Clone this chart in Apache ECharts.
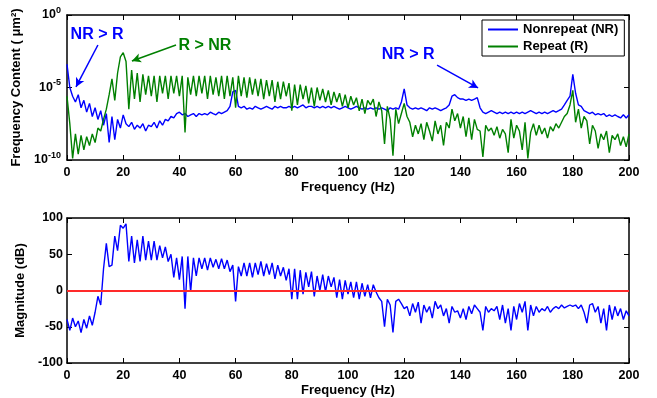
<!DOCTYPE html>
<html>
<head>
<meta charset="utf-8">
<script src="https://cdn.jsdelivr.net/npm/echarts@6/dist/echarts.min.js"></script>
<style>
html,body{margin:0;padding:0;background:#fff;}
#chart{width:657px;height:398px;}
</style>
</head>
<body>
<div id="chart"></div>
<script>
// Frequency bins (Hz), 1 Hz step, 0..200
const freqHz = Array.from({length: 201}, (_, i) => i);

// Top panel: frequency content (um^2), Nonrepeat (NR)
const nonrepeatNR = [
4e-4,1e-5,2.5e-6,1e-6,3.2e-6,4e-7,1.3e-6,2e-7,8e-7,1e-7,
4e-7,6.3e-8,2.5e-7,2.5e-8,1.6e-7,1.6e-9,1e-7,2.5e-9,6.3e-8,1.6e-8,
1.3e-7,3.2e-8,2e-8,4e-8,1.3e-8,2.5e-8,1.6e-8,3.2e-8,1e-8,2.5e-8,
2e-8,4e-8,1.6e-8,5e-8,2.5e-8,6.3e-8,5e-8,1e-7,8e-8,1.6e-7,
2e-7,1.3e-7,1.6e-7,1e-7,1.3e-7,1.6e-7,1e-7,1.6e-7,1.3e-7,1.6e-7,
1.3e-7,2e-7,1.6e-7,1.3e-7,2e-7,1.6e-7,2e-7,2.5e-7,5e-7,5e-6,
6.3e-6,5e-7,4e-7,5e-7,3.2e-7,4e-7,3.2e-7,5e-7,4e-7,3.2e-7,
4e-7,5e-7,4e-7,3.2e-7,5e-7,4e-7,5e-7,4e-7,4e-7,5e-7,
4e-7,5e-7,4e-7,5e-7,6.3e-7,4e-7,5e-7,5e-7,4e-7,5e-7,
4e-7,5e-7,4e-7,5e-7,4e-7,5e-7,4e-7,3.2e-7,4e-7,5e-7,
4e-7,3.2e-7,4e-7,5e-7,4e-7,3.2e-7,4e-7,3.2e-7,4e-7,3.2e-7,
4e-7,3.2e-7,4e-7,3.2e-7,2.5e-7,4e-7,3.2e-7,4e-7,3.2e-7,1e-6,
8e-6,6.3e-7,4e-7,3.2e-7,4e-7,3.2e-7,4e-7,3.2e-7,2.5e-7,4e-7,
3.2e-7,4e-7,3.2e-7,2.5e-7,3.2e-7,4e-7,6.3e-7,2.5e-6,3.2e-6,2e-6,
1.6e-6,1.6e-6,1.3e-6,1.6e-6,1.3e-6,1.6e-6,2e-6,4e-7,2e-7,1.6e-7,
2e-7,2.5e-7,2e-7,1.6e-7,2e-7,1.6e-7,2e-7,1.6e-7,2e-7,1.6e-7,
2e-7,1.6e-7,2e-7,1.6e-7,2e-7,2.5e-7,2e-7,1.6e-7,2e-7,1.6e-7,
2e-7,1.6e-7,2e-7,2.5e-7,2e-7,2.5e-7,3.2e-7,6.3e-7,1.3e-6,2.5e-6,
8e-5,4e-6,6.3e-7,5e-7,2.5e-7,2e-7,1.6e-7,2e-7,1.3e-7,1.6e-7,
1.3e-7,1.6e-7,1e-7,1.3e-7,1e-7,1.3e-7,1e-7,8e-8,1.3e-7,8e-8,1.3e-7
];

// Top panel: frequency content (um^2), Repeat (R)
const repeatR = [
2.5e-6,3.2e-8,1.3e-10,6.3e-9,2.5e-10,5e-9,5e-10,4e-9,1e-9,6.3e-9,
1.6e-9,1.6e-8,1e-8,6.3e-8,3.2e-7,3.2e-6,4e-5,1.3e-6,1e-4,1.3e-3,
2.5e-3,6.3e-4,3.2e-7,1.6e-4,1.6e-6,1e-4,1e-6,8e-5,3.2e-6,6.3e-5,
2.5e-6,6.3e-5,1e-6,6.3e-5,4e-6,6.3e-5,1.6e-6,6.3e-5,4e-6,6.3e-5,
2.5e-6,6.3e-5,8e-9,5e-5,3.2e-6,6.3e-5,2.5e-6,6.3e-5,4e-6,6.3e-5,
1.6e-6,6.3e-5,3.2e-6,5e-5,2.5e-6,6.3e-5,1.6e-6,6.3e-5,2.5e-6,5e-5,
4e-7,6.3e-5,2.5e-6,5e-5,2e-6,5e-5,3.2e-6,4e-5,2.5e-6,4e-5,
1.6e-6,3.2e-5,2.5e-6,3.2e-5,1e-6,2.5e-5,1.6e-6,2.5e-5,2.5e-6,2e-5,
2.5e-7,1.6e-5,6.3e-7,1.6e-5,1.6e-6,1.3e-5,8e-7,1e-5,5e-7,1e-5,
1.3e-6,8e-6,1e-6,6.3e-6,6.3e-7,5e-6,1e-6,4e-6,5e-7,3.2e-6,
4e-7,2.5e-6,6.3e-7,2e-6,2.5e-7,1.6e-6,1.6e-7,1.3e-6,6.3e-7,1.6e-6,
1e-7,1e-6,2.5e-7,1.3e-9,5e-7,6.3e-8,2e-10,3.2e-7,3.2e-8,1.6e-7,
8e-7,1e-7,4e-8,4e-9,2.5e-8,6.3e-9,3.2e-8,2.5e-9,4e-8,1e-8,
2e-9,5e-8,6.3e-9,2.5e-8,1e-9,4e-8,1.6e-8,3.2e-7,5e-8,1.6e-7,
1.6e-8,1e-7,4e-9,8e-8,2.5e-9,6.3e-8,1.3e-8,1e-8,1.6e-10,2.5e-8,
1e-8,1.6e-8,5e-9,2e-8,3.2e-9,1.3e-8,6.3e-9,3.2e-10,6.3e-8,3.2e-9,
2.5e-8,1e-8,5e-10,4e-8,1.3e-10,8e-9,3.2e-8,5e-9,2.5e-8,6.3e-9,
1.6e-8,3.2e-9,2e-8,1e-8,3.2e-8,1.6e-8,4e-8,1e-7,1.6e-7,6.3e-7,
6.3e-6,4e-8,3.2e-7,1.6e-8,1e-7,5e-8,1.3e-9,2.5e-8,1e-8,6.3e-10,
6.3e-9,2.5e-9,1e-8,3.2e-10,5e-9,2.5e-9,6.3e-9,1e-9,4e-9,8e-10,6.3e-9
];

// Bottom panel: magnitude (dB)
const magnitudeDb = [
-40,-55,-38,-50,-42,-58,-40,-52,-35,-48,
-30,-8,-20,30,65,33,35,75,55,90,
86,92,40,75,38,70,40,75,42,68,
42,68,42,62,45,60,40,50,18,45,
15,47,-25,47,-2,45,20,45,30,45,
28,45,32,43,30,44,30,42,26,35,
-15,33,20,38,20,38,18,38,22,40,
20,37,22,38,16,35,20,32,14,30,
-12,30,-12,28,-5,25,5,26,-8,20,
0,22,-2,20,5,18,-10,15,-12,14,
-5,12,-10,12,-12,10,-8,8,-10,8,
-2,-10,-15,-50,-12,-20,-58,-15,-12,-18,
-25,-22,-35,-18,-30,-16,-45,-20,-30,-22,
-38,-15,-25,-20,-35,-25,-45,-22,-30,-28,
-38,-25,-40,-22,-32,-20,-25,-30,-55,-22,
-30,-25,-28,-22,-40,-20,-45,-25,-55,-22,
-40,-18,-30,-15,-55,-20,-35,-22,-30,-25,
-28,-22,-30,-25,-22,-25,-20,-24,-22,-20,
-22,-20,-25,-20,-30,-45,-20,-18,-30,-22,
-45,-25,-55,-20,-40,-22,-35,-25,-40,-28,-35
];

const xTicks = [0, 20, 40, 60, 80, 100, 120, 140, 160, 180, 200];
const seriesNames = ['Nonrepeat (NR)', 'Repeat (R)'];

const FONT = 'Liberation Sans, Arial, Helvetica, sans-serif';
const BLUE = '#0000ff', GREEN = '#008000', RED = '#ff2a2a';

const chart = echarts.init(document.getElementById('chart'), null, {renderer: 'canvas'});

function xAxisDef(grid, pos, withLabels) {
  return {
    type: 'value', gridIndex: grid, position: pos, min: 0, max: 200, interval: 20,
    axisLine: {show: true, onZero: false, lineStyle: {color: '#000', width: 1.5}},
    axisTick: {show: true, inside: true, length: 5, lineStyle: {color: '#000', width: 1}},
    axisLabel: {show: withLabels, margin: 6, color: '#000', fontFamily: FONT, fontWeight: 'bold', fontSize: 12.5},
    splitLine: {show: false},
    name: withLabels ? 'Frequency (Hz)' : '',
    nameLocation: 'middle', nameGap: 21,
    nameTextStyle: {color: '#000', fontFamily: FONT, fontWeight: 'bold', fontSize: 13}
  };
}

const supRich = {
  b: {fontSize: 12.5, fontWeight: 'bold', fontFamily: FONT, color: '#000'},
  s: {fontSize: 9, fontWeight: 'bold', fontFamily: FONT, color: '#000', padding: [0, 0, 9, 0]}
};

const option = {
  animation: false,
  backgroundColor: '#fff',
  grid: [
    {left: 67, right: 28, top: 15, height: 145},
    {left: 67, right: 28, top: 218, height: 145}
  ],
  legend: {
    data: seriesNames,
    orient: 'vertical', left: 482, top: 20,
    backgroundColor: '#fff', borderColor: '#000', borderWidth: 1,
    padding: [3, 6, 3, 6], itemGap: 4, itemWidth: 30, itemHeight: 2, icon: 'rect',
    textStyle: {color: '#000', fontFamily: FONT, fontWeight: 'bold', fontSize: 13, padding: [0, 0, 0, 0]}
  },
  xAxis: [
    xAxisDef(0, 'bottom', true),
    xAxisDef(0, 'top', false),
    xAxisDef(1, 'bottom', true),
    xAxisDef(1, 'top', false)
  ],
  yAxis: [
    {
      type: 'log', logBase: 10, gridIndex: 0, position: 'left', min: 1e-10, max: 1, interval: 5,
      axisLine: {show: true, onZero: false, lineStyle: {color: '#000', width: 1.5}},
      axisTick: {show: true, inside: true, length: 5, lineStyle: {color: '#000'}},
      minorTick: {show: false},
      axisLabel: {
        margin: 6,
        formatter: v => '{b|10}{s|' + Math.round(Math.log10(v)) + '}',
        rich: supRich
      },
      splitLine: {show: false},
      name: 'Frequency Content ( \u03bcm\u00b2)', nameLocation: 'middle', nameGap: 36, nameRotate: 90,
      nameTextStyle: {color: '#000', fontFamily: FONT, fontWeight: 'bold', fontSize: 13}
    },
    {
      type: 'log', logBase: 10, gridIndex: 0, position: 'right', min: 1e-10, max: 1, interval: 5,
      axisLine: {show: true, onZero: false, lineStyle: {color: '#000', width: 1.5}},
      axisTick: {show: true, inside: true, length: 5, lineStyle: {color: '#000'}},
      minorTick: {show: false},
      axisLabel: {show: false}, splitLine: {show: false}
    },
    {
      type: 'value', gridIndex: 1, position: 'left', min: -100, max: 100, interval: 50,
      axisLine: {show: true, onZero: false, lineStyle: {color: '#000', width: 1.5}},
      axisTick: {show: true, inside: true, length: 5, lineStyle: {color: '#000'}},
      axisLabel: {margin: 4, color: '#000', fontFamily: FONT, fontWeight: 'bold', fontSize: 12.5},
      splitLine: {show: false},
      name: 'Magnitude (dB)', nameLocation: 'middle', nameGap: 36, nameRotate: 90,
      nameTextStyle: {color: '#000', fontFamily: FONT, fontWeight: 'bold', fontSize: 13}
    },
    {
      type: 'value', gridIndex: 1, position: 'right', min: -100, max: 100, interval: 50,
      axisLine: {show: true, onZero: false, lineStyle: {color: '#000', width: 1.5}},
      axisTick: {show: true, inside: true, length: 5, lineStyle: {color: '#000'}},
      axisLabel: {show: false}, splitLine: {show: false}
    }
  ],
  series: [
    {
      name: seriesNames[0], type: 'line', xAxisIndex: 0, yAxisIndex: 0,
      data: freqHz.map((f, i) => [f, nonrepeatNR[i]]),
      showSymbol: false, symbol: 'none', color: BLUE,
      lineStyle: {color: BLUE, width: 1.4}, z: 2,
      markLine: {
        silent: true, symbol: ['none', 'arrow'], symbolSize: [7, 9],
        label: {show: false},
        lineStyle: {color: BLUE, width: 1.5, type: 'solid'},
        data: [
          [{coord: [11.0, 8.5e-3]}, {coord: [3.2, 1.1e-5]}],
          [{coord: [131.7, 3.5e-4]}, {coord: [146.3, 9.3e-6]}]
        ]
      },
      markPoint: {
        silent: true, symbol: 'circle', symbolSize: 0.1,
        itemStyle: {color: 'rgba(0,0,0,0)'},
        label: {show: true, position: 'inside', color: BLUE, fontFamily: FONT, fontWeight: 'bold', fontSize: 16},
        data: [
          {coord: [10.7, 4.2e-2], value: 'NR > R', label: {formatter: 'NR > R'}},
          {coord: [121.4, 2.0e-3], value: 'NR > R', label: {formatter: 'NR > R'}}
        ]
      }
    },
    {
      name: seriesNames[1], type: 'line', xAxisIndex: 0, yAxisIndex: 0,
      data: freqHz.map((f, i) => [f, repeatR[i]]),
      showSymbol: false, symbol: 'none', color: GREEN,
      lineStyle: {color: GREEN, width: 1.4}, z: 3,
      markLine: {
        silent: true, symbol: ['none', 'arrow'], symbolSize: [7, 9],
        label: {show: false},
        lineStyle: {color: GREEN, width: 1.5, type: 'solid'},
        data: [
          [{coord: [38.8, 8.5e-3]}, {coord: [23.1, 6.8e-4]}]
        ]
      },
      markPoint: {
        silent: true, symbol: 'circle', symbolSize: 0.1,
        itemStyle: {color: 'rgba(0,0,0,0)'},
        label: {show: true, position: 'inside', color: GREEN, fontFamily: FONT, fontWeight: 'bold', fontSize: 16},
        data: [
          {coord: [49.1, 7.2e-3], value: 'R > NR', label: {formatter: 'R > NR'}}
        ]
      }
    },
    {
      name: 'Magnitude', type: 'line', xAxisIndex: 2, yAxisIndex: 2,
      data: freqHz.map((f, i) => [f, magnitudeDb[i]]),
      showSymbol: false, symbol: 'none',
      lineStyle: {color: BLUE, width: 1.4},
      markLine: {
        silent: true, symbol: ['none', 'none'], label: {show: false},
        lineStyle: {color: RED, width: 2, type: 'solid'},
        data: [{yAxis: 0}]
      }
    }
  ]
};

chart.setOption(option);
</script>
</body>
</html>
